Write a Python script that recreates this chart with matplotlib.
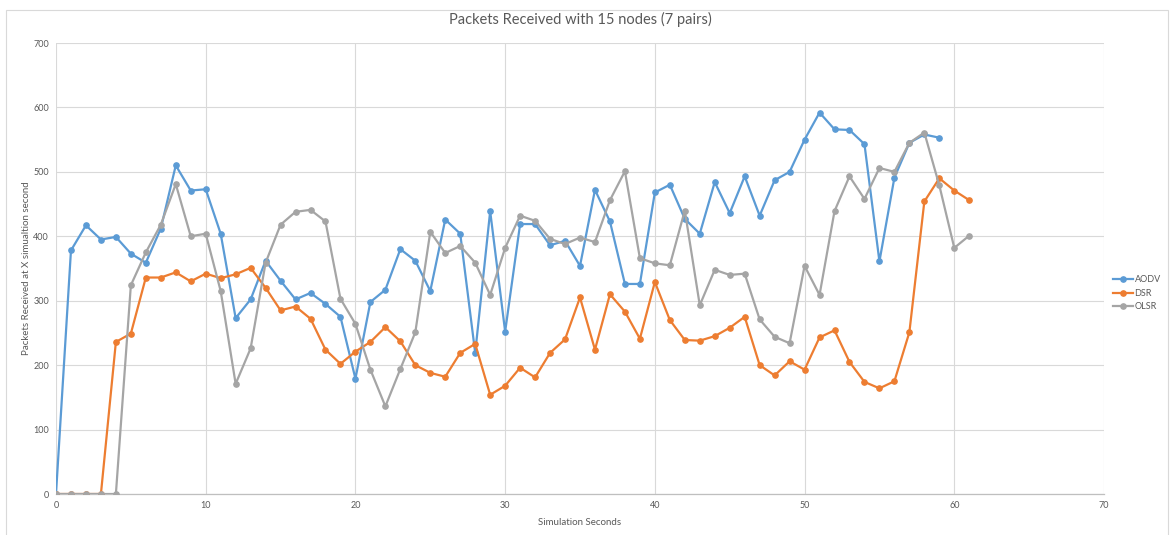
import matplotlib.pyplot as plt
from matplotlib.patches import Rectangle

plt.rcParams['font.family'] = ['Lato', 'DejaVu Sans']

# packets received per simulation second
aodv_t = list(range(0, 60))
aodv = [0, 378, 417, 395, 399, 373, 359, 412, 510, 471,
        473, 404, 273, 302, 362, 331, 302, 312, 295, 275,
        179, 298, 317, 380, 362, 315, 426, 404, 219, 439,
        252, 419, 419, 386, 393, 354, 472, 423, 326, 326,
        468, 480, 427, 404, 484, 436, 493, 432, 487, 500,
        550, 592, 566, 565, 543, 361, 491, 545, 558, 553]

dsr_t = list(range(0, 62))
dsr = [0, 0, 0, 0, 236, 249, 336, 336, 344, 330,
       342, 335, 341, 351, 320, 285, 291, 272, 224, 202,
       221, 236, 259, 237, 200, 188, 182, 219, 233, 154,
       168, 196, 181, 219, 240, 305, 224, 310, 283, 241,
       329, 270, 239, 238, 245, 258, 275, 200, 184, 206,
       193, 243, 254, 205, 174, 164, 175, 251, 454, 490,
       471, 456]

olsr_t = list(range(0, 62))
olsr = [0, 0, 0, 0, 0, 324, 375, 418, 481, 400,
        404, 315, 171, 226, 359, 418, 438, 441, 423, 303,
        264, 193, 136, 194, 251, 407, 374, 385, 359, 309,
        382, 432, 424, 396, 388, 398, 391, 456, 501, 366,
        358, 355, 440, 293, 348, 340, 342, 271, 244, 234,
        354, 309, 439, 493, 458, 506, 500, 545, 561, 479,
        382, 401]

fig = plt.figure(figsize=(11.74, 5.35), dpi=100)
ax = fig.add_axes([56 / 1174, 1 - 494 / 535, (1104 - 56) / 1174, (494 - 43) / 535])

# chart frame (runs past the bottom edge)
fig.patches.append(Rectangle((6 / 1174, -10 / 535), 1162 / 1174, 535 / 535,
                             transform=fig.transFigure, fill=False,
                             edgecolor='#d9d9d9', linewidth=0.8))

series = [(aodv_t, aodv, '#5b9bd5', 'AODV'),
          (dsr_t, dsr, '#ed7d31', 'DSR'),
          (olsr_t, olsr, '#a5a5a5', 'OLSR')]
for t, v, c, name in series:
    ax.plot(t, v, color=c, linewidth=1.6, marker='o', markersize=3.8,
            label=name, zorder=3)

ax.set_xlim(0, 70)
ax.set_ylim(0, 700)
ax.set_xticks(range(0, 71, 10))
ax.set_yticks(range(0, 701, 100))
ax.grid(True, color='#d9d9d9', linewidth=0.8)
ax.set_axisbelow(True)
for s in ['left', 'top', 'right']:
    ax.spines[s].set_visible(False)
ax.spines['bottom'].set_color('#bfbfbf')
ax.spines['bottom'].set_linewidth(0.9)
ax.tick_params(length=0, labelsize=6.5, colors='#595959', pad=5)

ax.set_title('Packets Received with 15 nodes (7 pairs)', fontsize=10.5,
             color='#595959', pad=14)
ax.set_xlabel('Simulation Seconds', fontsize=7, color='#595959', labelpad=6)
ax.set_ylabel('Packets Received at X simualtion second', fontsize=7,
              color='#595959', labelpad=2)

leg = ax.legend(loc='center left', bbox_to_anchor=(1.005, 0.445), frameon=False,
                fontsize=6.5, handlelength=2.2, handletextpad=0.2,
                labelspacing=0.5, borderaxespad=0)
for txt in leg.get_texts():
    txt.set_color('#595959')

fig.savefig('out.png', dpi=100)
